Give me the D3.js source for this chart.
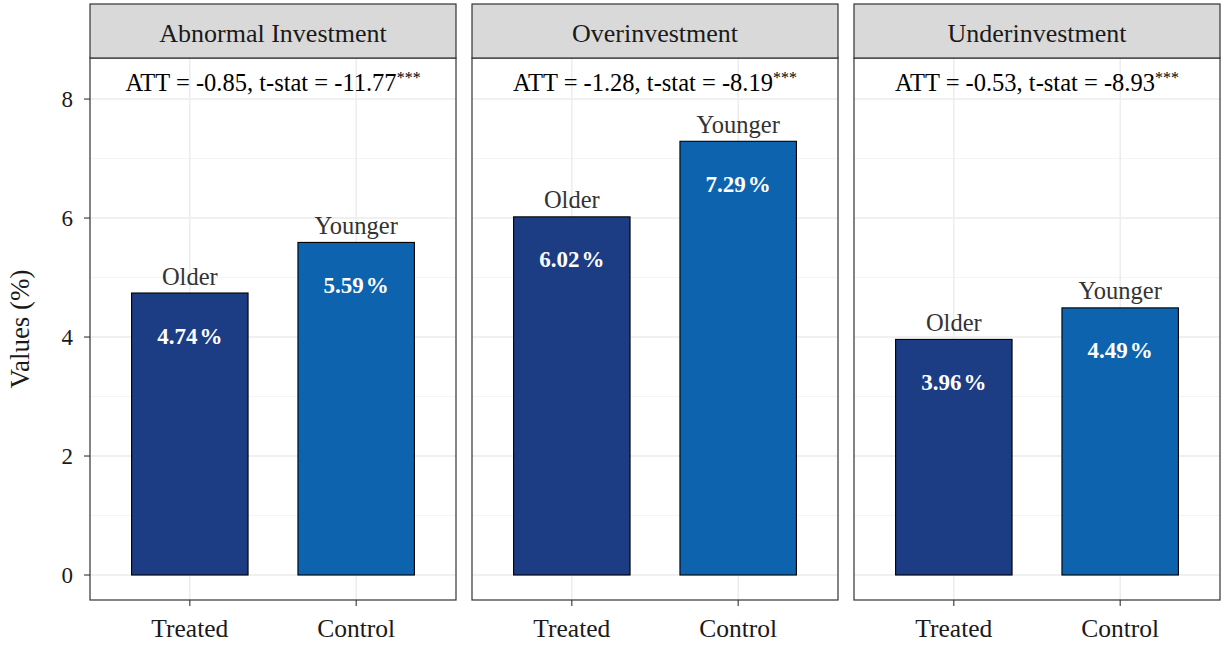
<!DOCTYPE html>
<html>
<head>
<meta charset="utf-8">
<script src="https://cdn.jsdelivr.net/npm/d3@7"></script>
<style>
  html, body { margin: 0; padding: 0; background: #fff; }
  svg { display: block; font-family: "Liberation Serif", "DejaVu Serif", serif; }
</style>
</head>
<body>
<svg id="chart" width="1225" height="645"></svg>
<script>
// Panels, groups and values (percent)
const panels = ["Abnormal Investment", "Overinvestment", "Underinvestment"];
const groups = ["Treated", "Control"];
const groupNames = ["Older", "Younger"];
const treatedValues = [4.74, 6.02, 3.96];
const controlValues = [5.59, 7.29, 4.49];
const attValues = ["-0.85", "-1.28", "-0.53"];
const tstatValues = ["-11.77", "-8.19", "-8.93"];
const yTicks = [0, 2, 4, 6, 8];
const yMinorTicks = [1, 3, 5, 7];

const colors = { Treated: "#1c3c84", Control: "#0d63ae" };

const svg = d3.select("#chart");
const panelW = 366, gap = 16, left = 90;
const stripTop = 4, stripH = 54, panelTop = stripTop + stripH, panelBottom = 600;

const y = d3.scaleLinear().domain([-0.42, 8.69]).range([panelBottom, panelTop]);

// Y axis (left of first panel)
const yAxis = svg.append("g");
yTicks.forEach(t => {
  yAxis.append("line").attr("x1", left - 6).attr("x2", left)
    .attr("y1", y(t)).attr("y2", y(t)).attr("stroke", "#333").attr("stroke-width", 1.1);
  yAxis.append("text").attr("x", left - 17).attr("y", y(t)).attr("dy", "0.35em")
    .attr("text-anchor", "end").attr("font-size", 23).attr("fill", "#1a1a1a").text(t);
});
svg.append("text")
  .attr("transform", `translate(29,${(panelTop + panelBottom) / 2}) rotate(-90)`)
  .attr("text-anchor", "middle").attr("font-size", 27).attr("fill", "#1a1a1a")
  .text("Values (%)");

panels.forEach((name, i) => {
  const x0 = left + i * (panelW + gap);
  // centres of discrete positions with 0.6 expansion each side
  const xc = d3.scalePoint().domain(groups).range([x0 + panelW * 0.6 / 2.2, x0 + panelW * 1.6 / 2.2]);
  const barW = panelW * 0.7 / 2.2;
  const g = svg.append("g");

  // background
  g.append("rect").attr("x", x0).attr("y", panelTop).attr("width", panelW)
    .attr("height", panelBottom - panelTop).attr("fill", "#fff");

  // grid
  yMinorTicks.forEach(t => g.append("line").attr("x1", x0).attr("x2", x0 + panelW)
    .attr("y1", y(t)).attr("y2", y(t)).attr("stroke", "#f4f4f4").attr("stroke-width", 1));
  yTicks.forEach(t => g.append("line").attr("x1", x0).attr("x2", x0 + panelW)
    .attr("y1", y(t)).attr("y2", y(t)).attr("stroke", "#ebebeb").attr("stroke-width", 1.4));
  groups.forEach(gr => g.append("line").attr("x1", xc(gr)).attr("x2", xc(gr))
    .attr("y1", panelTop).attr("y2", panelBottom).attr("stroke", "#ebebeb").attr("stroke-width", 1.4));

  const vals = [treatedValues[i], controlValues[i]];
  groups.forEach((gr, j) => {
    const v = vals[j];
    g.append("rect").attr("x", xc(gr) - barW / 2).attr("y", y(v))
      .attr("width", barW).attr("height", y(0) - y(v))
      .attr("fill", colors[gr]).attr("stroke", "#000").attr("stroke-width", 1.1);
    g.append("text").attr("x", xc(gr)).attr("y", y(v) - 8.5)
      .attr("text-anchor", "middle").attr("font-size", 24.5).attr("fill", "#333")
      .text(groupNames[j]);
    const lbl = g.append("text").attr("x", xc(gr)).attr("y", y(v) + 50.5)
      .attr("text-anchor", "middle").attr("font-size", 23).attr("font-weight", "bold")
      .attr("fill", "#fff");
    lbl.append("tspan").text(v.toFixed(2));
    lbl.append("tspan").attr("dx", 2).text("%");
  });

  // ATT annotation
  const ann = g.append("text").attr("x", x0 + panelW / 2).attr("y", 91)
    .attr("text-anchor", "middle").attr("font-size", 24.5).attr("fill", "#000");
  ann.append("tspan").text(`ATT = ${attValues[i]}, t-stat = ${tstatValues[i]}`);
  ann.append("tspan").attr("font-size", 16).attr("dy", -8).text("***");

  // panel border
  g.append("rect").attr("x", x0).attr("y", panelTop).attr("width", panelW)
    .attr("height", panelBottom - panelTop).attr("fill", "none")
    .attr("stroke", "#333").attr("stroke-width", 1.2);

  // strip
  g.append("rect").attr("x", x0).attr("y", stripTop).attr("width", panelW).attr("height", stripH)
    .attr("fill", "#d9d9d9").attr("stroke", "#333").attr("stroke-width", 1.2);
  g.append("text").attr("x", x0 + panelW / 2).attr("y", 42)
    .attr("text-anchor", "middle").attr("font-size", 26).attr("fill", "#1a1a1a").text(name);

  // x axis
  groups.forEach(gr => {
    g.append("line").attr("x1", xc(gr)).attr("x2", xc(gr)).attr("y1", panelBottom).attr("y2", panelBottom + 6)
      .attr("stroke", "#333").attr("stroke-width", 1.1);
    g.append("text").attr("x", xc(gr)).attr("y", 637).attr("text-anchor", "middle")
      .attr("font-size", 25.5).attr("fill", "#1a1a1a").text(gr);
  });
});
</script>
</body>
</html>
